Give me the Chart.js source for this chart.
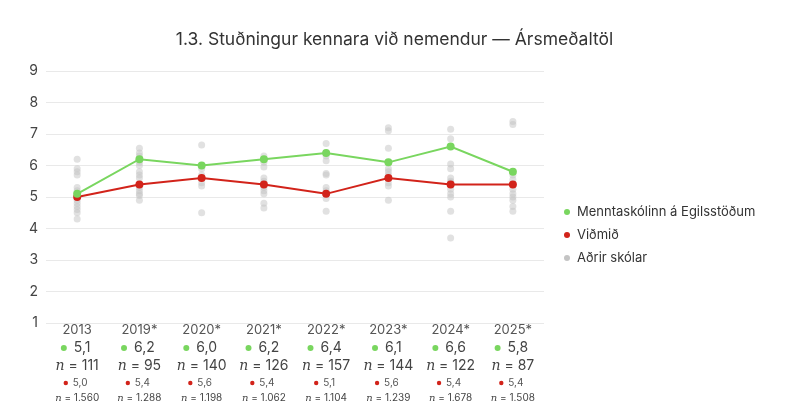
<!DOCTYPE html>
<html>
<head>
<meta charset="utf-8">
<script src="https://cdn.jsdelivr.net/npm/chart.js@4.4.1/dist/chart.umd.min.js"></script>
<style>
  html, body { margin: 0; padding: 0; background: #fff; }
  #wrap { width: 789px; height: 410px; }
</style>
</head>
<body>
<div id="wrap"><canvas id="graf"></canvas></div>
<script>
// gögn lesin af myndinni
const years = ["2013", "2019*", "2020*", "2021*", "2022*", "2023*", "2024*", "2025*"];
const schoolValues = [5.1, 6.2, 6.0, 6.2, 6.4, 6.1, 6.6, 5.8];
const schoolN = [111, 95, 140, 126, 157, 144, 122, 87];
const benchValues = [5.0, 5.4, 5.6, 5.4, 5.1, 5.6, 5.4, 5.4];
const benchN = [1560, 1288, 1198, 1062, 1104, 1239, 1678, 1508];
const otherSchools = [
  [6.2, 5.9, 5.8, 5.7, 5.3, 5.2, 5.0, 4.9, 4.8, 4.7, 4.6, 4.5, 4.3],
  [6.55, 6.4, 6.3, 6.1, 6.0, 5.8, 5.7, 5.6, 5.3, 5.2, 5.1, 5.05, 4.9],
  [6.65, 5.9, 5.7, 5.45, 5.35, 4.5],
  [6.3, 6.1, 5.95, 5.6, 5.5, 5.3, 5.2, 5.1, 4.8, 4.65],
  [6.7, 6.3, 6.15, 5.75, 5.7, 5.3, 5.2, 4.95, 4.55],
  [7.2, 7.1, 6.55, 5.9, 5.8, 5.7, 5.45, 5.35, 4.9],
  [7.15, 6.85, 6.05, 5.9, 5.6, 5.5, 5.45, 5.25, 5.1, 5.0, 4.55, 3.7],
  [7.4, 7.3, 5.7, 5.55, 5.25, 5.1, 5.0, 4.9, 4.7, 4.55]
];
const title = "1.3. Stuðningur kennara við nemendur — Ársmeðaltöl";

const green = "#79d65f";
const red = "#d2231a";
const gray = "rgba(195,195,195,0.5)";

const fmt = (v, d) => v.toFixed(d).replace(".", ",");
const fmtN = v => String(v).replace(/\B(?=(\d{3})+(?!\d))/g, ".");

let otherPoints = [];
otherSchools.forEach((arr, i) => {
  arr.forEach(v => otherPoints.push({ x: years[i], y: v }));
});

// texti undir hverju ári
const xLabels = {
  id: "xLabels",
  afterDraw(chart) {
    const ctx = chart.ctx;
    const xs = chart.scales.x;
    ctx.save();
    ctx.textBaseline = "middle";
    for (let i = 0; i < years.length; i++) {
      const x = xs.getPixelForValue(i);
      ctx.textAlign = "center";
      ctx.fillStyle = "#555";
      ctx.font = "13px Inter";
      ctx.fillText(years[i], x, 330);

      // skólinn
      ctx.font = "14px Inter";
      ctx.fillStyle = "#444";
      let t = fmt(schoolValues[i], 1);
      let w = ctx.measureText(t).width;
      ctx.textAlign = "left";
      ctx.fillText(t, x - w / 2 + 5, 348);
      ctx.fillStyle = green;
      ctx.beginPath();
      ctx.arc(x - w / 2 - 5, 348, 3, 0, Math.PI * 2);
      ctx.fill();

      drawN(ctx, x, 366, schoolN[i], 14);

      // viðmið
      ctx.font = "10px Inter";
      ctx.fillStyle = "#555";
      t = fmt(benchValues[i], 1);
      w = ctx.measureText(t).width;
      ctx.fillText(t, x - w / 2 + 3, 383);
      ctx.fillStyle = red;
      ctx.beginPath();
      ctx.arc(x - w / 2 - 4, 383, 2.2, 0, Math.PI * 2);
      ctx.fill();

      drawN(ctx, x, 398, benchN[i], 10);
    }
    ctx.restore();
  }
};

function drawN(ctx, x, y, n, size) {
  ctx.font = "italic " + size + "px 'DejaVu Serif'";
  const wn = ctx.measureText("n").width;
  ctx.font = size + "px Inter";
  const rest = " = " + fmtN(n);
  const wr = ctx.measureText(rest).width;
  const x0 = x - (wn + wr) / 2;
  ctx.textAlign = "left";
  ctx.fillStyle = "#444";
  ctx.font = "italic " + size + "px 'DejaVu Serif'";
  ctx.fillText("n", x0, y);
  ctx.font = size + "px Inter";
  ctx.fillText(rest, x0 + wn, y);
}

// titill og skýringar
const sideLegend = {
  id: "sideLegend",
  afterDraw(chart) {
    const ctx = chart.ctx;
    const area = chart.chartArea;
    const sets = chart.data.datasets;
    ctx.save();
    ctx.textBaseline = "middle";
    ctx.textAlign = "center";
    ctx.fillStyle = "#333";
    ctx.font = "17.5px Inter";
    ctx.fillText(title, chart.width / 2, 40);

    const x = area.right + 23;
    const y0 = 212;
    ctx.textAlign = "left";
    ctx.font = "13px Inter";
    sets.forEach((ds, i) => {
      const y = y0 + i * 23;
      ctx.fillStyle = ds.backgroundColor === gray ? "#c4c4c4" : ds.backgroundColor;
      ctx.beginPath();
      ctx.arc(x, y, 3, 0, Math.PI * 2);
      ctx.fill();
      ctx.fillStyle = "#333";
      ctx.fillText(ds.label, x + 10, y);
    });
    ctx.restore();
  }
};

new Chart(document.getElementById("graf"), {
  type: "line",
  data: {
    labels: years,
    datasets: [
      {
        label: "Menntaskólinn á Egilsstöðum",
        data: schoolValues,
        borderColor: green,
        backgroundColor: green,
        borderWidth: 2,
        pointRadius: 4,
        pointBorderWidth: 0,
        order: 0
      },
      {
        label: "Viðmið",
        data: benchValues,
        borderColor: red,
        backgroundColor: red,
        borderWidth: 2,
        pointRadius: 4,
        pointBorderWidth: 0,
        order: 1
      },
      {
        label: "Aðrir skólar",
        data: otherPoints,
        showLine: false,
        borderColor: gray,
        backgroundColor: gray,
        pointRadius: 3.5,
        pointBorderWidth: 0,
        order: 2
      }
    ]
  },
  options: {
    responsive: true,
    maintainAspectRatio: false,
    animation: false,
    layout: { padding: { left: 21, right: 245, top: 71, bottom: 79 } },
    plugins: {
      legend: { display: false },
      tooltip: { enabled: false }
    },
    scales: {
      x: {
        offset: true,
        grid: { display: false },
        border: { display: false },
        ticks: { display: false }
      },
      y: {
        min: 1,
        max: 9,
        ticks: { stepSize: 1, color: "#444", font: { family: "Inter", size: 14 }, padding: 8 },
        grid: { color: "#e9e9e9", drawTicks: false },
        border: { display: false }
      }
    }
  },
  plugins: [xLabels, sideLegend]
});
</script>
</body>
</html>
